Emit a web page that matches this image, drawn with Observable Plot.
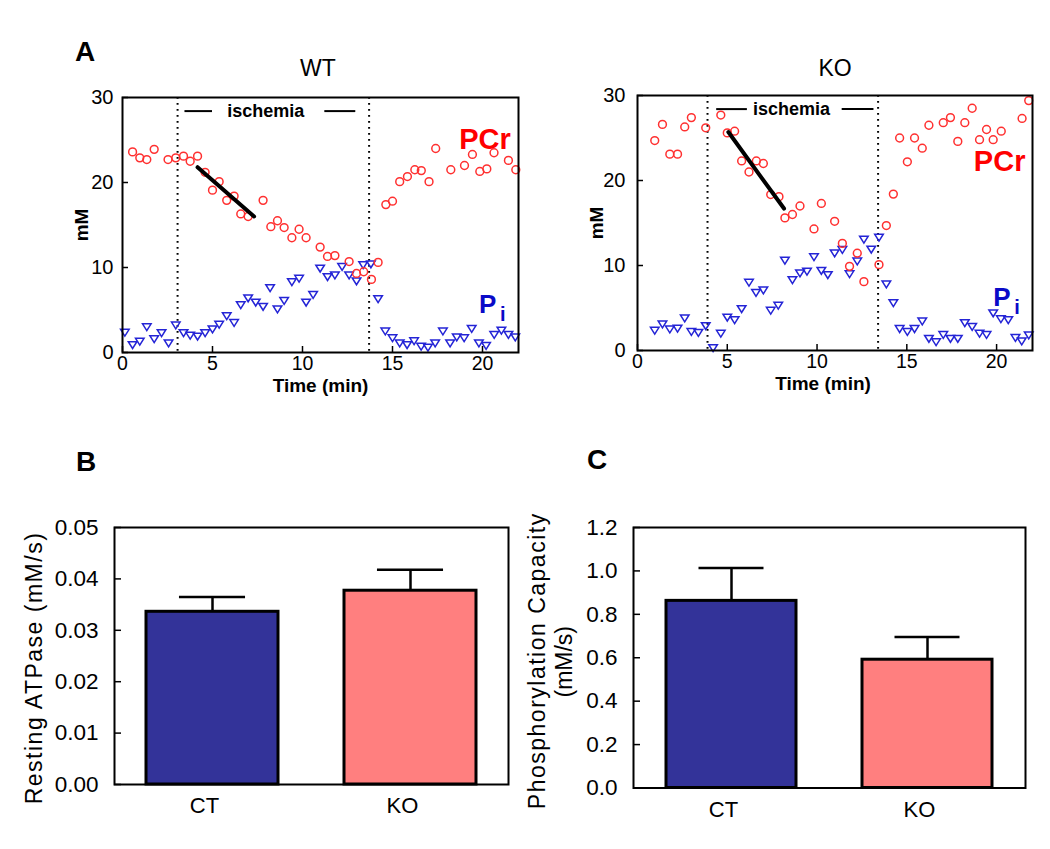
<!DOCTYPE html>
<html><head><meta charset="utf-8">
<script src="https://cdn.jsdelivr.net/npm/d3@7"></script>
<script src="https://cdn.jsdelivr.net/npm/@observablehq/plot@0.6"></script>
<style>
body{margin:0;background:#fff;}
#fig{position:relative;width:1050px;height:849px;overflow:hidden;font-family:"Liberation Sans",Arial,Helvetica,sans-serif;background:#fff;}
.panelLetter{position:absolute;font-weight:bold;font-size:28px;line-height:1;}
.ttl{position:absolute;font-size:23px;line-height:1;transform:translateX(-50%);white-space:nowrap;}
</style></head><body><div id="fig"></div><script>
const FONT = '"Liberation Sans", Arial, Helvetica, sans-serif';

// ---------- Panel A data: [time (min), concentration (mM)] ----------
const wtPCr = [[0.56,23.6],[0.96,22.9],[1.35,22.7],[1.76,23.9],[2.53,22.7],[2.96,22.9],[3.39,23.1],[3.76,22.5],[4.17,23.1],[4.59,21.2],[5.0,19.1],[5.37,20.1],[5.79,17.9],[6.2,18.4],[6.57,16.3],[6.98,16.0],[7.81,17.9],[8.24,14.8],[8.61,15.5],[8.98,14.7],[9.41,13.5],[9.81,14.5],[10.2,13.5],[10.98,12.4],[11.39,11.3],[11.8,11.4],[12.59,10.7],[13.0,9.3],[13.4,9.5],[13.83,8.6],[14.2,10.6],[14.63,17.4],[15.0,17.8],[15.4,20.1],[15.83,20.7],[16.24,21.5],[16.6,21.4],[17.03,20.1],[17.4,24.0],[18.24,21.5],[19.0,22.0],[19.44,23.3],[19.85,21.3],[20.24,21.6],[20.64,23.5],[21.44,22.6],[21.85,21.5]];
const wtPi = [[0.13,2.35],[0.56,0.9],[0.96,1.3],[1.35,3.0],[1.76,1.6],[2.17,2.3],[2.56,1.1],[2.96,3.2],[3.39,2.3],[3.76,2.0],[4.17,1.9],[4.59,2.3],[5.0,2.75],[5.37,3.3],[5.79,4.3],[6.2,3.5],[6.57,5.6],[6.98,6.4],[7.4,5.9],[7.81,5.4],[8.2,7.6],[8.61,5.1],[8.98,6.1],[9.41,8.3],[9.81,8.7],[10.2,5.9],[10.59,6.8],[10.98,9.9],[11.39,8.9],[11.8,9.1],[12.2,10.1],[12.59,9.1],[13.0,8.4],[13.37,10.3],[13.8,10.4],[14.2,6.3],[14.6,2.5],[15.0,1.7],[15.4,1.1],[15.81,0.9],[16.2,1.35],[16.59,0.7],[16.97,0.6],[17.37,1.1],[17.8,2.5],[18.2,1.1],[18.57,1.8],[18.98,1.7],[19.4,2.8],[19.8,1.1],[20.2,0.8],[20.65,2.1],[21.05,2.6],[21.44,2.1],[21.82,1.8]];
const koPCr = [[0.96,24.7],[1.39,26.6],[1.8,23.1],[2.23,23.1],[2.63,26.3],[3.0,27.4],[3.8,26.2],[4.64,27.7],[5.0,25.6],[5.41,25.8],[5.8,22.3],[6.21,21.0],[6.62,22.3],[7.01,22.0],[7.42,18.35],[7.88,18.1],[8.21,15.6],[8.63,16.0],[9.05,17.0],[9.83,14.3],[10.24,17.3],[10.98,15.2],[11.41,12.6],[11.81,9.9],[12.24,11.45],[12.61,8.1],[13.45,10.1],[13.86,14.7],[14.25,18.4],[14.6,25.0],[15.03,22.2],[15.43,25.0],[15.86,23.8],[16.23,26.5],[17.03,26.8],[17.43,27.4],[17.84,24.6],[18.23,26.8],[18.64,28.5],[19.05,24.8],[19.44,26.0],[19.81,24.8],[20.26,25.8],[21.42,27.3],[21.79,29.4]];
const koPi = [[0.96,2.35],[1.39,3.1],[1.8,2.5],[2.23,2.6],[2.63,3.8],[3.0,2.2],[3.39,2.1],[3.8,2.9],[4.21,0.3],[4.64,2.0],[5.0,3.9],[5.41,3.6],[5.8,4.9],[6.21,8.0],[6.6,6.8],[7.01,7.1],[7.42,4.7],[7.84,5.3],[8.21,10.6],[8.63,8.3],[9.05,9.1],[9.44,9.3],[9.83,11.0],[10.24,9.4],[10.6,8.9],[10.98,11.45],[11.41,11.85],[11.81,9.0],[12.24,10.5],[12.61,13.06],[13.02,11.9],[13.45,13.3],[13.86,7.8],[14.25,5.6],[14.6,2.55],[15.03,2.2],[15.43,2.55],[15.86,3.45],[16.23,1.4],[16.63,1.0],[17.03,1.85],[17.43,1.4],[17.84,1.4],[18.23,3.25],[18.64,2.8],[19.05,2.0],[19.44,1.85],[19.81,4.4],[20.24,3.7],[20.65,3.6],[21.05,1.5],[21.4,1.1],[21.79,1.8]];

const xTicksA = [0, 5, 10, 15, 20];
const yTicksA = [0, 10, 20, 30];
const wtIschemia = [3.06, 13.7];       // start / end of ischemia (min)
const koIschemia = [3.9, 13.4];
const wtSlope = [[4.17, 21.8], [7.31, 16.0]];   // fitted PCr decline
const koSlope = [[5.06, 25.7], [8.16, 16.7]];
const wtIschLabel = {x: 7.96, y: 28.4, dashes: [[3.47, 5.0], [11.24, 12.96]]};
const koIschLabel = {x: 8.58, y: 28.4, dashes: [[4.41, 6.12], [11.4, 13.17]]};
const wtPCrLabel = [20.14, 25.0], koPCrLabel = [20.17, 22.26];
const wtPiLabel = [19.81, 5.68], koPiLabel = [19.81, 6.27];

// ---------- Panels B and C data ----------
const barCategories = ["CT", "KO"];
const barColors = ["#333399", "#FF7F7F"];
const atpaseMean = [0.0336, 0.0377];
const atpaseSEM = [0.0029, 0.0041];
const atpaseTicks = [0, 0.01, 0.02, 0.03, 0.04, 0.05];
const phosMean = [0.862, 0.591];
const phosSEM = [0.152, 0.105];
const phosTicks = [0, 0.2, 0.4, 0.6, 0.8, 1.0, 1.2];

const RED = "#ff3030", BLUE = "#2424d6";
const triDown = {
  draw(ctx, size) {
    const r = Math.sqrt(size / Math.PI);
    ctx.moveTo(-r, -0.75 * r); ctx.lineTo(r, -0.75 * r); ctx.lineTo(0, 0.85 * r); ctx.closePath();
  }
};
const P = a => a.map(([x, y]) => ({x, y}));

function timePanel(c) {
  const fw = c.W - c.mL - c.mR, fh = c.H - c.mT - c.mB;
  return Plot.plot({
    width: c.W, height: c.H, marginLeft: c.mL, marginRight: c.mR, marginTop: c.mT, marginBottom: c.mB,
    style: {fontFamily: FONT, fontSize: "20px", color: "#000", background: "transparent", overflow: "visible"},
    x: {domain: [0, 22], axis: null},
    y: {domain: [0, 30], axis: null},
    marks: [
      Plot.ruleX(c.isch, {x: d => d, stroke: "#000", strokeWidth: 2, strokeDasharray: "1.8,4.2"}),
      Plot.ruleY(c.lab.dashes, {y: () => c.lab.y, x1: d => d[0], x2: d => d[1], stroke: "#000", strokeWidth: 2}),
      Plot.text([c.lab], {x: "x", y: "y", text: () => "ischemia", fontWeight: "bold", fontSize: 18, fill: "#000"}),
      Plot.dot(P(c.pi), {x: "x", y: "y", symbol: triDown, r: 4.3, stroke: BLUE, strokeWidth: 1.5, fill: "none"}),
      Plot.dot(P(c.pcr), {x: "x", y: "y", r: 3.9, stroke: RED, strokeWidth: 1.5, fill: "none"}),
      Plot.line(P(c.slope), {x: "x", y: "y", stroke: "#000", strokeWidth: 4}),
      Plot.text([c.pcrLab], {x: d => d[0], y: d => d[1], text: () => "PCr", fill: "#ff0000", fontWeight: "bold", fontSize: 29}),
      Plot.text([c.piLab], {x: d => d[0], y: d => d[1], text: () => "P", textAnchor: "start", fill: "#0a0ac8", fontWeight: "bold", fontSize: 26}),
      Plot.text([c.piLab], {x: d => d[0], y: d => d[1], text: () => "i", textAnchor: "start", dx: 21, dy: 10, fill: "#0a0ac8", fontWeight: "bold", fontSize: 20}),
      Plot.frame({stroke: "#000", strokeWidth: 2}),
      Plot.tickX(xTicksA, {x: d => d, insetTop: fh - 6, stroke: "#000", strokeWidth: 1.5}),
      Plot.tickY(yTicksA, {y: d => d, insetRight: fw - 6, stroke: "#000", strokeWidth: 1.5}),
      // tick labels
      Plot.text(xTicksA, {x: d => d, frameAnchor: "bottom", lineAnchor: "top", dy: 4, text: d => String(d), fontSize: 19.5, fill: "#000"}),
      Plot.text(yTicksA, {y: d => d, frameAnchor: "left", textAnchor: "end", lineAnchor: "middle", dx: -c.yPad, text: d => String(d), fontSize: 20, fill: "#000"}),
      // axis titles
      Plot.text(["mM"], {frameAnchor: "left", dx: -41, rotate: -90, text: d => d, textAnchor: "middle", lineAnchor: "middle", fontWeight: "bold", fontSize: 19}),
      Plot.text(["Time (min)"], {frameAnchor: "bottom", dy: 33, dx: c.timeDx, text: d => d, textAnchor: "middle", lineAnchor: "middle", fontWeight: "bold", fontSize: 19})
    ]
  });
}

function barPanel(c) {
  const fw = c.W - c.mL - c.mR;
  const n = barCategories.length;
  const bw = fw / (n - c.pIn + 2 * c.pOut) * (1 - c.pIn);
  const data = barCategories.map((cat, i) => ({cat, v: c.means[i], up: c.means[i] + c.sems[i]}));
  const fmt = d3.format(c.fmt);
  const labelMarks = c.labels.map(l => Plot.text([l.text], {frameAnchor: "left", dx: l.dx, dy: l.dy, rotate: -90, text: d => d, textAnchor: "middle", lineAnchor: "middle", fontSize: 23}));
  return Plot.plot({
    width: c.W, height: c.H, marginLeft: c.mL, marginRight: c.mR, marginTop: c.mT, marginBottom: c.mB,
    style: {fontFamily: FONT, fontSize: "22px", color: "#000", background: "transparent", overflow: "visible"},
    x: {domain: barCategories, paddingInner: c.pIn, paddingOuter: c.pOut, axis: null},
    y: {domain: c.domain, axis: null},
    color: {domain: barCategories, range: barColors},
    marks: [
      Plot.ruleX(data, {x: "cat", y1: "v", y2: "up", stroke: "#000", strokeWidth: 2.5}),
      Plot.tickY(data, {x: "cat", y: "up", insetLeft: bw / 4, insetRight: bw / 4, stroke: "#000", strokeWidth: 2.5}),
      Plot.barY(data, {x: "cat", y: "v", fill: "cat", stroke: "#000", strokeWidth: 3}),
      Plot.frame({stroke: "#000", strokeWidth: 2}),
      Plot.tickY(c.ticks, {y: d => d, insetRight: fw - 7, stroke: "#000", strokeWidth: 1.5}),
      Plot.text(c.ticks, {y: d => d, frameAnchor: "left", textAnchor: "end", lineAnchor: "middle", dx: -16, text: d => fmt(d), fontSize: 22.5, fill: "#000"}),
      Plot.text(barCategories, {x: d => d, frameAnchor: "bottom", lineAnchor: "top", dy: 13, dx: -8, text: d => d, fontSize: 22, fill: "#000"}),
      ...labelMarks
    ]
  });
}

const fig = document.getElementById("fig");
function place(node, left, top) {
  node.style.position = "absolute"; node.style.left = left + "px"; node.style.top = top + "px";
  fig.appendChild(node); return node;
}
function spaced(svg, text, ls) {
  d3.select(svg).selectAll("text").filter(function () { return this.textContent === text; }).attr("letter-spacing", ls);
}

place(timePanel({pcr: wtPCr, pi: wtPi, isch: wtIschemia, slope: wtSlope, lab: wtIschLabel, pcrLab: wtPCrLabel, piLab: wtPiLabel,
  W: 545, H: 360, mL: 122, mR: 27, mT: 57, mB: 48, yPad: 9, timeDx: 0}), 0, 40);
place(timePanel({pcr: koPCr, pi: koPi, isch: koIschemia, slope: koSlope, lab: koIschLabel, pcrLab: koPCrLabel, piLab: koPiLabel,
  W: 505, H: 360, mL: 92, mR: 18, mT: 55, mB: 50, yPad: 12, timeDx: -12}), 545, 40);

const svgB = place(barPanel({means: atpaseMean, sems: atpaseSEM, domain: [0, 0.05], ticks: atpaseTicks, fmt: ".2f",
  W: 520, H: 349, mL: 114, mR: 12, mT: 27, mB: 65, pIn: 0.335, pOut: 0.161,
  labels: [{text: "Resting ATPase (mM/s)", dx: -80, dy: 12}]}), 0, 500);
spaced(svgB, "Resting ATPase (mM/s)", 1.5);

const svgC = place(barPanel({means: phosMean, sems: phosSEM, domain: [0, 1.2], ticks: phosTicks, fmt: ".1f",
  W: 550, H: 349, mL: 133, mR: 25, mT: 27, mB: 61.5, pIn: 0.337, pOut: 0.168,
  labels: [{text: "Phosphorylation Capacity", dx: -96, dy: 3}, {text: "(mM/s)", dx: -69, dy: 4}]}), 500, 500);
spaced(svgC, "Phosphorylation Capacity", 1.5);

function addDiv(cls, text, left, top) {
  const d = document.createElement("div"); d.className = cls; d.textContent = text;
  d.style.left = left + "px"; d.style.top = top + "px"; fig.appendChild(d);
}
addDiv("panelLetter", "A", 75, 38);
addDiv("panelLetter", "B", 76, 448);
addDiv("panelLetter", "C", 587, 446);
addDiv("ttl", "WT", 318, 57);
addDiv("ttl", "KO", 835, 57);
</script></body></html>
